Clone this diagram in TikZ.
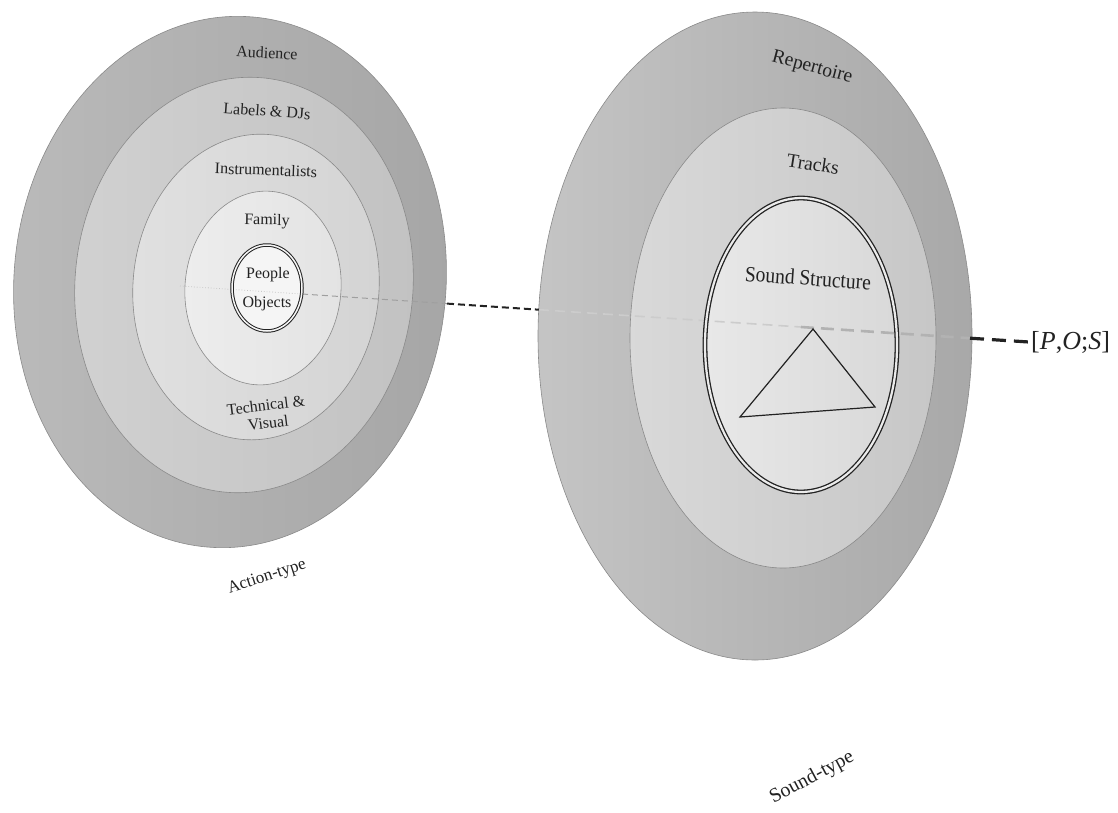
\documentclass[tikz,border=0pt]{standalone}
\usepackage{fontspec}
\setmainfont{Liberation Serif}
\usetikzlibrary{calc}
\definecolor{ink}{HTML}{222222}
\definecolor{rimgray}{HTML}{8A8A8A}
\tikzset{
  layer/.style={draw=rimgray, line width=0.6pt},
  core/.style={draw=ink, line width=1pt, double=white!96!black, double distance=1.5pt},
  bigcore/.style={draw=ink, line width=1.3pt, double=white!92!black, double distance=2.2pt},
  ringlabel/.style={font=\fontsize{16}{18}\selectfont, text=ink, inner sep=0pt, align=center},
  soundlabel/.style={font=\fontsize{19.5}{22}\selectfont, text=ink, inner sep=0pt},
  axisfaint/.style={gray!45, line width=0.8pt, dotted},
  axisgray/.style={gray!75, line width=1pt, dash pattern=on 6pt off 4pt},
  axisblack/.style={ink, line width=2pt, dash pattern=on 7pt off 4pt},
  axislight/.style={gray!40, line width=1.6pt, dash pattern=on 10pt off 6pt},
  axismid/.style={gray!60, line width=2.6pt, dash pattern=on 13pt off 7pt},
  axisthick/.style={ink, line width=3.2pt, dash pattern=on 14pt off 8pt},
  tri/.style={draw=ink, line width=1.2pt, line join=miter}
}
\begin{document}
\begin{tikzpicture}[x=1pt,y=-1pt]
  \useasboundingbox (0,0) rectangle (1118,812);

  % action-type disc
  \shadedraw[layer, left color=black!27, right color=black!35, rotate around={-5:(230,282)}]
    (230,282) ellipse [x radius=216, y radius=266];
  \shadedraw[layer, left color=black!18, right color=black!24, rotate around={-5:(244,285)}]
    (244,285) ellipse [x radius=169, y radius=208];
  \shadedraw[layer, left color=black!12, right color=black!17, rotate around={-5:(256,287)}]
    (256,287) ellipse [x radius=123, y radius=153];
  \shadedraw[layer, left color=black!7, right color=black!11, rotate around={-5:(263,288)}]
    (263,288) ellipse [x radius=78, y radius=97];
  \fill[black!4] (267,288) ellipse [x radius=35, y radius=43];

  % sound-type disc
  \shadedraw[layer, left color=black!23, right color=black!34]
    (755,336) ellipse [x radius=217, y radius=324];
  \shadedraw[layer, left color=black!15, right color=black!22]
    (783,338) ellipse [x radius=153, y radius=230];
  \fill[left color=black!9, right color=black!15] (801,345) ellipse [x radius=96, y radius=147];

  % axis through both discs
  \coordinate (axisL) at (180,286);
  \coordinate (coreL) at (302,294);
  \coordinate (rimL) at (447,303.6);
  \coordinate (rimR) at (539,309.7);
  \coordinate (midR) at (801,327);
  \coordinate (rimRR) at (970,338.2);
  \coordinate (axisR) at (1029,342);
  \draw[axisfaint] (axisL) -- (coreL);
  \draw[axisgray] (coreL) -- (rimL);
  \draw[axisblack] (rimL) -- (rimR);
  \draw[axislight] (rimR) -- (midR);
  \draw[axismid] (midR) -- (rimRR);
  \draw[axisthick] (rimRR) -- (axisR);

  \draw[core] (267,288) ellipse [x radius=35, y radius=43];
  \draw[bigcore] (801,345) ellipse [x radius=96, y radius=147];

  % triangle
  \coordinate (apex) at (813,329);
  \coordinate (triR) at (875,407);
  \coordinate (triL) at (740,417);
  \draw[tri] (apex) -- (triR) -- (triL) -- cycle;

  % labels
  \node[ringlabel, rotate=-3] (audience) at (267,53) {Audience};
  \node[ringlabel, rotate=-4] (labels) at (267,111) {Labels \& DJs};
  \node[ringlabel, rotate=-2] (instr) at (266,170) {Instrumentalists};
  \node[ringlabel, rotate=-1] (family) at (267,221) {Family};
  \node[ringlabel] (people) at (268,275) {People};
  \node[ringlabel] (objects) at (267,304) {Objects};
  \node[ringlabel, rotate=7] (technical) at (267,414) {Technical \&\\Visual};
  \node[ringlabel, font=\fontsize{17}{19}\selectfont, rotate=18] (action) at (267,577) {Action-type};

  \node[soundlabel, rotate=-15] (repertoire) at (812,68) {Repertoire};
  \node[soundlabel, rotate=-9] (tracks) at (813,164) {Tracks};
  \node[soundlabel, rotate=-4, yscale=1.12] (structure) at (808,278) {Sound Structure};
  \node[soundlabel, font=\fontsize{26}{28}\selectfont, anchor=west] (pos) at (1031,342)
    {[\textit{P},\textit{O};\textit{S}]};
  \node[soundlabel, font=\fontsize{20}{22}\selectfont, rotate=28] (soundtype) at (812,778) {Sound-type};
\end{tikzpicture}
\end{document}
